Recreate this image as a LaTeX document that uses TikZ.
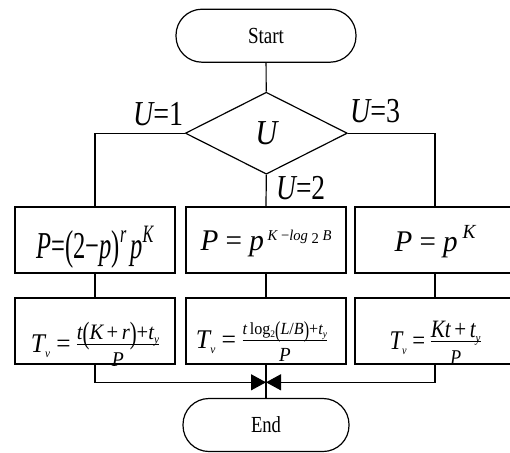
\documentclass[tikz,border=0pt]{standalone}
\usepackage{graphicx}
\usepackage{fontspec}
\setmainfont{Liberation Serif}
\usetikzlibrary{shapes.geometric,arrows.meta}
\newcommand\fs[1]{\fontsize{#1}{#1}\selectfont}
\newcommand\bigpar[2]{\raisebox{-#1em}{\scalebox{1}[#2]{\upshape(}}}
\newcommand\bigparr[2]{\raisebox{-#1em}{\scalebox{1}[#2]{\upshape)}}}
\newcommand\sq[2]{\resizebox{#1}{\height}{#2}}
\newsavebox\nbx \newsavebox\dbx \newlength\fw
% #1 rule height above baseline, #2 numerator, #3 its baseline above the rule, #4 denominator, #5 its baseline below the rule
\newcommand\mfrac[5]{\sbox\nbx{#2}\sbox\dbx{#4}\setlength\fw{\wd\nbx}\ifdim\wd\dbx>\fw\setlength\fw{\wd\dbx}\fi
  \makebox[\fw]{\raisebox{\dimexpr#1+#3\relax}{\usebox\nbx}}\hspace{-\fw}%
  \raisebox{#1}{\rule{\fw}{0.8pt}}\hspace{-\fw}%
  \makebox[\fw]{\raisebox{\dimexpr#1-#5\relax}{\usebox\dbx}}}
\tikzset{
  ln/.style={line width=1.2pt},
  base/.style={draw, ln, inner sep=0pt, align=center},
  term/.style={base, rectangle, rounded corners=26pt, minimum height=53pt},
  dec/.style={base, diamond, minimum width=162pt, minimum height=82pt},
  proc/.style={base, rectangle, minimum width=160pt, minimum height=66pt, text depth=0pt},
  lab/.style={inner sep=0pt, anchor=base west},
  tip/.style={-{Triangle[length=15pt,width=16pt]}}
}
\begin{document}
\begin{tikzpicture}[x=1pt,y=-1pt]
\clip (0,0) rectangle (510,452);
\node[term, minimum width=180pt] (start) at (266,35.7) {\sq{36pt}{\fs{23}Start}};
\node[dec] (dec) at (266.3,133.2) {\sq{22pt}{\fs{35}\itshape U}};
\node[proc, text height=36pt] (b11) at (95,240) {\sq{117pt}{\fs{38}\itshape P\upshape=\bigpar{0.05}{1.1}2−\itshape p\bigparr{0.05}{1.1}\raisebox{16pt}{\fs{25}\itshape r}\,p\raisebox{16pt}{\fs{25}\itshape K}}};
\node[proc, text height=20pt] (b12) at (266,240) {\sq{131pt}{\fs{30}\itshape P\upshape\ =\ \itshape p\raisebox{10pt}{\fs{15}\ \itshape K\upshape\ −\itshape log\ \raisebox{-3pt}{\upshape 2}\ B}}};
\node[proc, text height=23pt] (b13) at (435,240) {\sq{81pt}{\fs{30}\itshape P\upshape\ =\ \itshape p\raisebox{13pt}{\fs{20}\ \itshape K}}};
\node[proc, text height=43pt] (b21) at (95,331) {\sq{128pt}{\fs{27}\itshape T\raisebox{-5pt}{\fs{12}v}\upshape\ =\ \mfrac{7.5pt}{\fs{22}\itshape t\bigpar{0.2}{1.4}\itshape K\upshape\,+\,\itshape r\bigparr{0.2}{1.4}\upshape+\itshape t\raisebox{-4pt}{\fs{12}y}}{6pt}{\fs{21}\itshape P}{21pt}}};
\node[proc, text height=35pt] (b22) at (266,331) {\sq{131pt}{\fs{27}\itshape T\raisebox{-5pt}{\fs{12}v}\upshape\ =\ \mfrac{7.5pt}{\fs{17}\itshape t\,\upshape log\raisebox{-3pt}{\fs{10}2}\bigpar{0.2}{1.35}\itshape L\upshape/\itshape B\bigparr{0.2}{1.35}\upshape+\itshape t\raisebox{-3pt}{\fs{10}y}}{7pt}{\fs{20}\itshape P}{20pt}}\hspace{9pt}};
\node[proc, text height=37pt] (b23) at (435,331) {\sq{91pt}{\fs{27}\itshape T\raisebox{-5pt}{\fs{12}v}\upshape\ =\ \mfrac{7.5pt}{\fs{25}\itshape Kt\upshape\,+\,\itshape t\raisebox{-5pt}{\fs{13}y}}{5pt}{\fs{21}\itshape P}{22pt}}};
\node[term, minimum width=166pt] (end) at (266,425) {\sq{30pt}{\fs{23}End}};
\coordinate (m) at (266,382.3);
\node[lab] (u1) at (133,125) {\sq{50pt}{\fs{35}\itshape U\upshape=1}};
\node[lab] (u3) at (350,122) {\sq{50pt}{\fs{35}\itshape U\upshape=3}};
\node[lab] (u2) at (276,199) {\sq{49pt}{\fs{35}\itshape U\upshape=2}};
\draw[ln] (start) -- (dec);
\draw[ln] (dec.west) -| (b11.north);
\draw[ln] (dec.east) -| (b13.north);
\draw[ln] (dec.south) -- (b12.north);
\draw[ln] (b11) -- (b21);
\draw[ln] (b12) -- (b22);
\draw[ln] (b13) -- (b23);
\draw[ln] (b22.south) -- (end.north);
\draw[ln,tip] (b21.south) |- (m);
\draw[ln,tip] (b23.south) |- (m);
\end{tikzpicture}
\end{document}
